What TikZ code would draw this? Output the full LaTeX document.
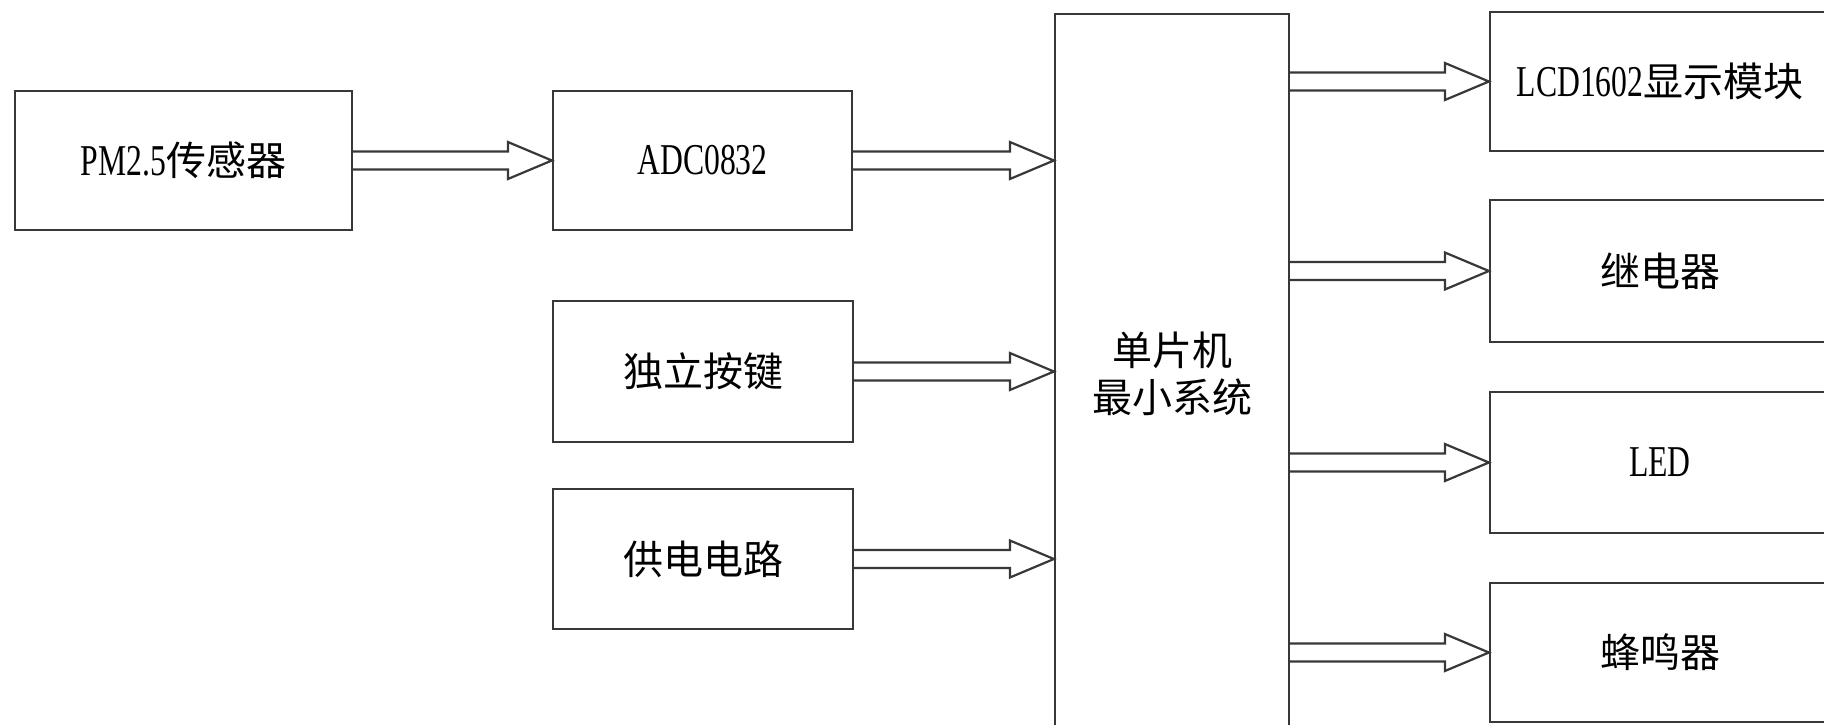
\documentclass[tikz,border=0pt]{standalone}
\usepackage{fontspec}
\newfontfamily\cjk{Noto Sans CJK SC}
\newfontfamily\lat[FakeStretch=0.72]{Liberation Serif}
\usetikzlibrary{calc}
\newcommand{\latx}[1]{{\lat\fontsize{44}{47}\selectfont #1}}
\begin{document}
\begin{tikzpicture}[x=1pt,y=-1pt,
  box/.style={draw=black!78, line width=2.2pt, inner sep=0pt, fill=none,
    font=\cjk\fontsize{40}{47}\selectfont, align=center},
  blockarrow/.style={draw=black!78, line width=2.2pt, line join=miter,
    to path={let \p1=(\tikztostart), \p2=(\tikztotarget) in
      (\x1,\y1+9pt) -- (\x2-44pt,\y2+9pt) -- (\x2-44pt,\y2+18.5pt) -- (\x2,\y2)
      -- (\x2-44pt,\y2-18.5pt) -- (\x2-44pt,\y2-9pt) -- (\x1,\y1-9pt)}}
]
\clip (0,0) rectangle (1824,724);
\fill[white] (0,0) rectangle (1824,724);

\node[box, minimum width=337pt, minimum height=139pt] (pm)  at (183.5,160.5) {\latx{PM2.5}传感器};
\node[box, minimum width=299pt, minimum height=139pt] (adc) at (702.5,160.5) {\latx{ADC0832}};
\node[box, minimum width=300pt, minimum height=141pt] (key) at (703,371.5) {独立按键};
\node[box, minimum width=300pt, minimum height=140pt] (pwr) at (703,559) {供电电路};
\node[box, minimum width=234pt, minimum height=720pt] (mcu) at (1172,374) {单片机\\最小系统};
\node[box, minimum width=340pt, minimum height=139pt] (lcd) at (1660,81.5) {\latx{LCD1602}显示模块};
\node[box, minimum width=340pt, minimum height=142pt] (rly) at (1660,271) {继电器};
\node[box, minimum width=340pt, minimum height=141pt] (led) at (1660,462.5) {\latx{LED}};
\node[box, minimum width=340pt, minimum height=139pt] (buz) at (1660,652.5) {蜂鸣器};

\draw[blockarrow] (pm.east) to (adc.west);
\draw[blockarrow] (adc.east) to (mcu.west |- adc.east);
\draw[blockarrow] (key.east) to (mcu.west |- key.east);
\draw[blockarrow] (pwr.east) to (mcu.west |- pwr.east);
\draw[blockarrow] (mcu.east |- lcd.west) to (lcd.west);
\draw[blockarrow] (mcu.east |- rly.west) to (rly.west);
\draw[blockarrow] (mcu.east |- led.west) to (led.west);
\draw[blockarrow] (mcu.east |- buz.west) to (buz.west);
\end{tikzpicture}
\end{document}
